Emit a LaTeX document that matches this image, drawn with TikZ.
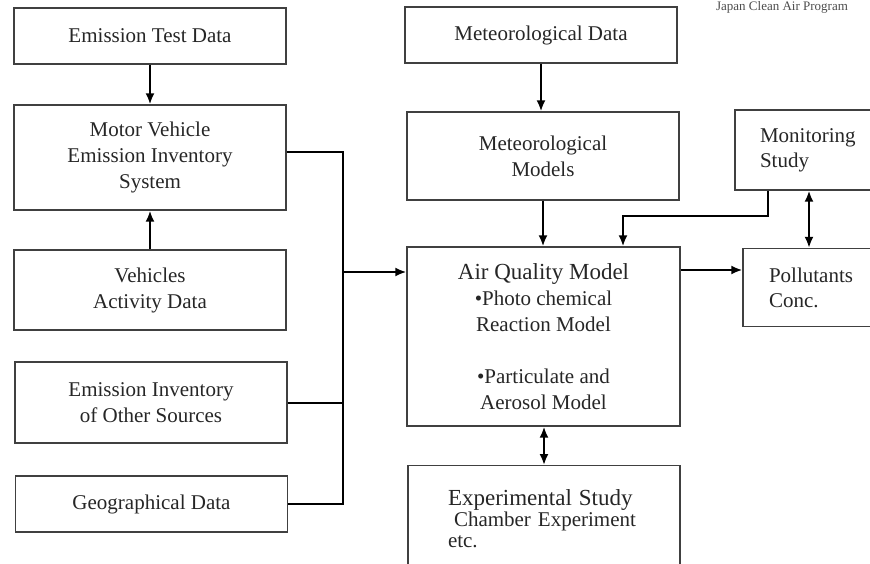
\documentclass[tikz,border=0pt]{standalone}
\usepackage{fontspec}
\setmainfont{Liberation Serif}
\usepackage{xcolor}
\usepackage{tikz}
\usetikzlibrary{positioning, arrows.meta}
\tikzset{>={Latex[length=11pt,width=9pt]}}

\begin{document}
\begin{tikzpicture}[x=1pt, y=-1pt]
    % Define node styles
    \tikzstyle{blk} = [rectangle, draw=black!75, line width=1.4pt, text=black!85,
        minimum width=272pt, align=center, font=\fontsize{21}{26}\selectfont]
    \tikzstyle{side} = [rectangle, draw=black!75, line width=1.4pt, text=black!85,
        align=left, font=\fontsize{21}{25}\selectfont]
    \tikzstyle{link} = [line width=2pt, black]

    \useasboundingbox (0,0) rectangle (870,564);

    % Emission side (left column)
    \node[blk, minimum height=56pt] (etd) at (150,36) {Emission Test Data};
    \node[blk, minimum height=105pt] (mves) at (150,157.5) {Motor Vehicle\\Emission Inventory\\System};
    \node[blk, minimum height=80pt] (vad) at (150,290) {Vehicles\\Activity Data};
    \node[blk, minimum height=81pt] (eio) at (151,402.5) {Emission Inventory\\of Other Sources};
    \node[blk, minimum height=56pt] (geo) at (151.5,504) {Geographical Data};

    % Meteorology and model (middle column)
    \node[blk, minimum height=56pt] (metd) at (541,35) {Meteorological Data};
    \node[blk, minimum height=88pt] (metm) at (543,156) {Meteorological\\Models};
    \node[blk, minimum width=273pt, minimum height=179pt] (aqm) at (543.5,336.5)
        {{\fontsize{23}{26}\selectfont Air Quality Model}\\\textbullet Photo chemical\\Reaction Model\\[26pt]\textbullet Particulate and\\Aerosol Model};
    \node[blk, anchor=north, align=left, text width=192pt, inner xsep=40pt, inner ysep=24pt,
        font=\fontsize{21}{21}\selectfont] (exp) at (544,465)
        {{\fontsize{23}{22}\selectfont Experimental Study}\\\hspace*{6pt}Chamber Experiment\\etc.\\[4pt]~};

    % Monitoring and output (right column)
    \node[side, minimum width=140pt, minimum height=80pt, text width=90pt] (mon) at (805,150) {Monitoring\\Study};
    \node[side, minimum width=132pt, minimum height=78pt, text width=80pt] (pol) at (809,287.5) {Pollutants\\Conc.};

    % Source label at the top edge
    \node[anchor=base, text=black!70, font=\fontsize{13}{13}\selectfont] (src) at (782,11) {Japan Clean Air Program};

    % Junction points
    \coordinate (bus) at (343,272);
    \coordinate (monj) at (623,216);
    \coordinate (outy) at (0,270);

    % Arrows in the left column
    \draw[link, ->] (etd) -- (mves);
    \draw[link, ->] (vad) -- (mves);

    % Collector into the air quality model
    \draw[link] ([yshift=5pt]mves.east) -| (bus |- geo.east) -- (geo.east);
    \draw[link] (eio.east) -- (bus |- eio.east);
    \draw[link, ->] (bus) -- (bus -| aqm.west);

    % Arrows in the middle column
    \draw[link, ->] (metd) -- (metd |- metm.north);
    \draw[link, ->] (metm) -- (metm |- aqm.north);
    \draw[link, <->] (aqm.south -| exp.north) -- (exp.north);

    % Arrows on the right
    \draw[link, ->] ([xshift=-37pt]mon.south) |- (monj) -- (monj |- aqm.north);
    \draw[link, <->] (pol.north |- mon.south) -- (pol.north);
    \draw[link, ->] (aqm.east |- outy) -- (pol.west |- outy);

\end{tikzpicture}
\end{document}
